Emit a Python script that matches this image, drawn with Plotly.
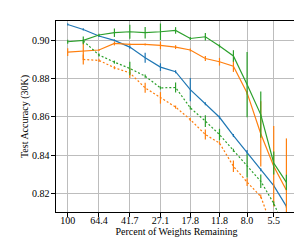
import plotly.graph_objects as go

# Percent of weights remaining at each pruning iteration
pct = [100, 80.3, 64.4, 51.8, 41.7, 33.6, 27.1, 21.9, 17.8, 14.4, 11.8, 9.7, 8.0, 6.6, 5.5, 4.6]
pct_dotted = pct[1:]

tick_vals = [100, 64.4, 41.7, 27.1, 17.8, 11.8, 8.0, 5.5]
tick_text = ["100", "64.4", "41.7", "27.1", "17.8", "11.8", "8.0", "5.5"]
y_ticks = [0.82, 0.84, 0.86, 0.88, 0.90]

blue_solid = [0.9081, 0.9055, 0.9021, 0.8998, 0.8963, 0.8908, 0.8859, 0.8835,
              0.8742, 0.8668, 0.8598, 0.8503, 0.8416, 0.8325, 0.8242, 0.8134]
blue_err = [0.0006, 0.0006, 0.0005, 0.0005, 0.0008, 0.0026, 0.002, 0.0008,
            0.006, 0.0008, 0.0008, 0.0008, 0.0012, 0.0008, 0.0008, 0.0008]

orange_solid = [0.8937, 0.8943, 0.8948, 0.8982, 0.8977, 0.8977, 0.8972, 0.8963,
                0.8948, 0.8904, 0.8887, 0.8864, 0.8725, 0.8512, 0.8343, 0.8218]
orange_err = [0.002, 0.0047, 0.0005, 0.001, 0.0005, 0.0005, 0.002, 0.001,
              0.0008, 0.0013, 0.002, 0.003, 0.001, 0.017, 0.021, 0.027]

green_solid = [0.8991, 0.8998, 0.9026, 0.9038, 0.9043, 0.9038, 0.9043, 0.9050,
               0.9008, 0.9017, 0.8969, 0.8917, 0.8768, 0.8612, 0.8360, 0.8259]
green_err = [0.001, 0.002, 0.0006, 0.0022, 0.0037, 0.003, 0.0043, 0.0017,
             0.0008, 0.002, 0.0008, 0.003, 0.017, 0.012, 0.006, 0.004]

orange_dotted = [0.8899, 0.8894, 0.8856, 0.8829, 0.8751, 0.8699, 0.8651, 0.8586,
                 0.8508, 0.8464, 0.8343, 0.8260, 0.8186, 0.8000, 0.7850]
orange_dotted_err = [0.0026, 0.0008, 0.0008, 0.0026, 0.0026, 0.003, 0.0008, 0.0008,
                     0.0026, 0.0008, 0.003, 0.002, 0.001, 0.001, 0.001]

green_dotted = [0.8995, 0.8922, 0.8885, 0.8852, 0.8812, 0.8751, 0.8753, 0.8647,
                0.8578, 0.8508, 0.8426, 0.8345, 0.8265, 0.8150, 0.8000]
green_dotted_err = [0.0008, 0.0008, 0.0008, 0.0035, 0.0008, 0.0008, 0.0026, 0.0008,
                    0.003, 0.003, 0.0008, 0.006, 0.0035, 0.001, 0.001]

BLUE, ORANGE, GREEN = "#1f77b4", "#ff7f0e", "#2ca02c"

series = [
    (pct, blue_solid, blue_err, BLUE, "solid"),
    (pct, orange_solid, orange_err, ORANGE, "solid"),
    (pct, green_solid, green_err, GREEN, "solid"),
    (pct_dotted, orange_dotted, orange_dotted_err, ORANGE, "2px,2px"),
    (pct_dotted, green_dotted, green_dotted_err, GREEN, "2px,2px"),
]

fig = go.Figure()
for xs, ys, es, col, dash in series:
    fig.add_trace(go.Scatter(
        x=xs, y=ys, mode="lines",
        line=dict(color=col, width=1.2, dash=dash),
        error_y=dict(type="data", array=es, visible=True, color=col,
                     thickness=1.2, width=0),
        showlegend=False,
    ))

font = dict(family="Liberation Serif, Times New Roman, serif", size=10, color="black")

fig.update_layout(
    width=302, height=245,
    margin=dict(l=48, r=13, t=13, b=41),
    paper_bgcolor="white", plot_bgcolor="white",
    font=font,
)
fig.update_xaxes(
    type="log", range=[2.0715, 0.598],
    tickvals=tick_vals, ticktext=tick_text,
    showgrid=True, gridcolor="#bdbdbd", gridwidth=1.2,
    showline=True, linecolor="black", linewidth=1.2, mirror=True,
    ticks="outside", ticklen=3.5, tickcolor="black", tickwidth=1,
    ticklabelstandoff=-5,
    title=dict(text="Percent of Weights Remaining", font=font, standoff=0),
    zeroline=False,
)
fig.update_yaxes(
    range=[0.8105, 0.9099],
    tickvals=y_ticks, tickformat=".2f",
    showgrid=True, gridcolor="#bdbdbd", gridwidth=1.2,
    showline=True, linecolor="black", linewidth=1.2, mirror=True,
    ticks="outside", ticklen=3.5, tickcolor="black", tickwidth=1,
    title=dict(text="Test Accuracy (30K)", font=font, standoff=1),
    zeroline=False,
)

fig.write_html("out.html")
